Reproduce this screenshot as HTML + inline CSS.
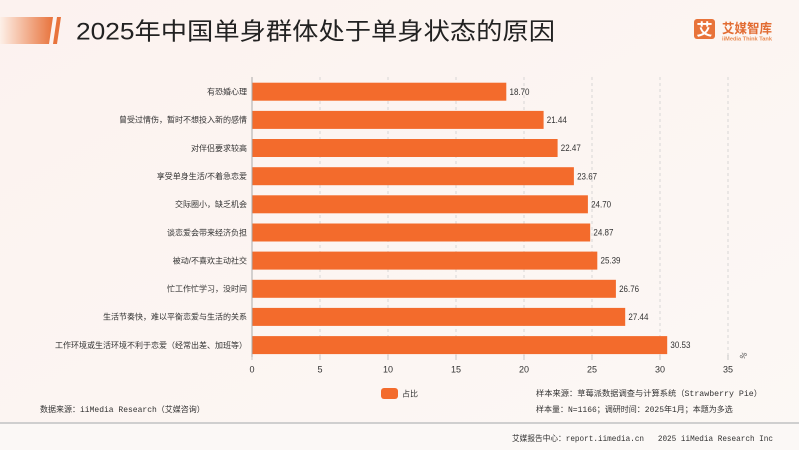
<!DOCTYPE html>
<html><head><meta charset="utf-8">
<style>
html,body{margin:0;padding:0;}
body{width:799px;height:450px;overflow:hidden;background:#fcf5f2;}
svg{display:block;}
.cn{font-family:"Liberation Sans","Noto Sans CJK SC",sans-serif;}
.mono{font-family:"Liberation Mono","Noto Sans CJK SC",monospace;}
</style></head>
<body>
<svg width="799" height="450" viewBox="0 0 799 450" xmlns="http://www.w3.org/2000/svg">
<defs>
<linearGradient id="bg" x1="0" y1="0" x2="1" y2="1">
<stop offset="0" stop-color="#fcf2ef"/>
<stop offset="1" stop-color="#fcf8f5"/>
</linearGradient>
<linearGradient id="tg" x1="0" y1="0" x2="1" y2="0">
<stop offset="0" stop-color="#fdf0e8"/>
<stop offset="1" stop-color="#e8733c"/>
</linearGradient>
</defs>
<rect x="0" y="0" width="799" height="450" fill="url(#bg)"/>
<rect x="0" y="424" width="799" height="26" fill="#fbf8f6"/>

<!-- title decoration -->
<polygon points="0,17 53,17 49,44 0,44" fill="url(#tg)"/>
<polygon points="57,17 61,17 57,44 53,44" fill="#e8733c"/>
<text x="76" y="39.5" class="cn" font-size="24" fill="#222" textLength="479" lengthAdjust="spacingAndGlyphs">2025年中国单身群体处于单身状态的原因</text>

<!-- logo -->
<rect x="694" y="19" width="21" height="20" rx="3" fill="#e8733a"/>
<text x="704.5" y="35" text-anchor="middle" class="cn" font-size="16" font-weight="bold" fill="#fff">艾</text>
<text x="722" y="33" class="cn" font-size="13" font-weight="bold" fill="#e26c33" textLength="50" lengthAdjust="spacingAndGlyphs">艾媒智库</text>
<text x="722" y="40.5" class="cn" font-size="5.5" font-weight="bold" fill="#e8884f" textLength="50" lengthAdjust="spacingAndGlyphs">iiMedia Think Tank</text>

<!-- gridlines -->
<g stroke="#cfcfcf" stroke-width="0.8" stroke-dasharray="3,3">
<line x1="320" y1="77" x2="320" y2="357"/>
<line x1="388" y1="77" x2="388" y2="357"/>
<line x1="456" y1="77" x2="456" y2="357"/>
<line x1="524" y1="77" x2="524" y2="357"/>
<line x1="592" y1="77" x2="592" y2="357"/>
<line x1="660" y1="77" x2="660" y2="357"/>
<line x1="728" y1="77" x2="728" y2="357"/>
</g>
<!-- bottom ticks -->
<g stroke="#bbb" stroke-width="0.8">
<line x1="252" y1="355" x2="252" y2="360"/>
<line x1="320" y1="355" x2="320" y2="360"/>
<line x1="388" y1="355" x2="388" y2="360"/>
<line x1="456" y1="355" x2="456" y2="360"/>
<line x1="524" y1="355" x2="524" y2="360"/>
<line x1="592" y1="355" x2="592" y2="360"/>
<line x1="660" y1="355" x2="660" y2="360"/>
<line x1="728" y1="355" x2="728" y2="360"/>
</g>

<!-- bars -->
<g fill="#f36b2c">
<rect x="252" y="82.7" width="254.3" height="18"/>
<rect x="252" y="110.9" width="291.6" height="18"/>
<rect x="252" y="139.0" width="305.6" height="18"/>
<rect x="252" y="167.2" width="321.9" height="18"/>
<rect x="252" y="195.3" width="335.9" height="18"/>
<rect x="252" y="223.5" width="338.2" height="18"/>
<rect x="252" y="251.6" width="345.3" height="18"/>
<rect x="252" y="279.8" width="363.9" height="18"/>
<rect x="252" y="307.9" width="373.2" height="18"/>
<rect x="252" y="336.1" width="415.2" height="18"/>
</g>
<line x1="252" y1="77" x2="252" y2="357" stroke="#aaa" stroke-width="1"/>

<!-- category labels -->
<g class="cn" font-size="8" fill="#333" text-anchor="end">
<text x="247" y="94.5">有恐婚心理</text>
<text x="247" y="122.7">曾受过情伤，暂时不想投入新的感情</text>
<text x="247" y="150.8">对伴侣要求较高</text>
<text x="247" y="179.0">享受单身生活/不着急恋爱</text>
<text x="247" y="207.1">交际圈小，缺乏机会</text>
<text x="247" y="235.3">谈恋爱会带来经济负担</text>
<text x="247" y="263.4">被动/不喜欢主动社交</text>
<text x="247" y="291.6">忙工作忙学习，没时间</text>
<text x="247" y="319.7">生活节奏快，难以平衡恋爱与生活的关系</text>
<text x="247" y="347.9">工作环境或生活环境不利于恋爱（经常出差、加班等）</text>
</g>

<!-- value labels -->
<g class="cn" font-size="9" fill="#333">
<text x="509.5" y="94.8" textLength="20" lengthAdjust="spacingAndGlyphs">18.70</text>
<text x="546.8" y="123.0" textLength="20" lengthAdjust="spacingAndGlyphs">21.44</text>
<text x="560.8" y="151.1" textLength="20" lengthAdjust="spacingAndGlyphs">22.47</text>
<text x="577.1" y="179.3" textLength="20" lengthAdjust="spacingAndGlyphs">23.67</text>
<text x="591.1" y="207.4" textLength="20" lengthAdjust="spacingAndGlyphs">24.70</text>
<text x="593.4" y="235.6" textLength="20" lengthAdjust="spacingAndGlyphs">24.87</text>
<text x="600.5" y="263.7" textLength="20" lengthAdjust="spacingAndGlyphs">25.39</text>
<text x="619.1" y="291.9" textLength="20" lengthAdjust="spacingAndGlyphs">26.76</text>
<text x="628.4" y="320.0" textLength="20" lengthAdjust="spacingAndGlyphs">27.44</text>
<text x="670.4" y="348.2" textLength="20" lengthAdjust="spacingAndGlyphs">30.53</text>
</g>

<!-- tick labels -->
<g class="cn" font-size="9" fill="#333" text-anchor="middle">
<text x="252" y="372.5">0</text>
<text x="320" y="372.5">5</text>
<text x="388" y="372.5">10</text>
<text x="456" y="372.5">15</text>
<text x="524" y="372.5">20</text>
<text x="592" y="372.5">25</text>
<text x="660" y="372.5">30</text>
<text x="728" y="372.5">35</text>
</g>
<text x="0" y="0" class="cn" font-size="8" fill="#555" transform="translate(744,360) rotate(-60)">%</text>

<!-- legend -->
<rect x="381" y="388" width="17" height="11" rx="3" fill="#f36b2c"/>
<text x="402" y="396.5" class="cn" font-size="8" fill="#333">占比</text>

<!-- sources -->
<text x="40" y="412" class="mono" font-size="8" fill="#333">数据来源：iiMedia Research（艾媒咨询）</text>
<text x="536" y="396" class="mono" font-size="8" fill="#333" textLength="226" lengthAdjust="spacingAndGlyphs">样本来源：草莓派数据调查与计算系统（Strawberry Pie）</text>
<text x="536" y="412" class="mono" font-size="8" fill="#333">样本量：N=1166；调研时间：2025年1月；本题为多选</text>

<!-- separator -->
<rect x="0" y="422" width="799" height="2" fill="#cfcfcf"/>
<text x="512" y="441" class="mono" font-size="8" fill="#333" textLength="261" lengthAdjust="spacingAndGlyphs" xml:space="preserve">艾媒报告中心：report.iimedia.cn   2025 iiMedia Research Inc</text>
</svg>
</body></html>
